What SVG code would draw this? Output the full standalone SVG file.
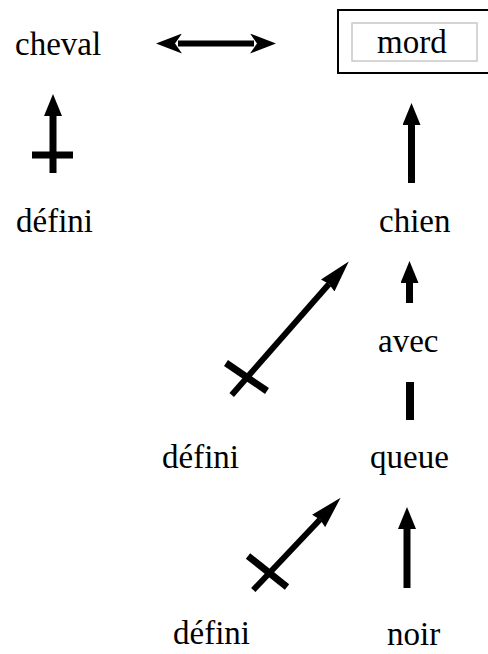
<svg xmlns="http://www.w3.org/2000/svg" width="488" height="654" viewBox="0 0 488 654">
<style>
text{font-family:"Liberation Serif","Times New Roman",serif;font-size:33px;fill:#000}
.c{stroke:#000;fill:none;stroke-linecap:butt}
.s{stroke-width:7}
.t{stroke-width:6}
</style>
<defs>
<marker id="head" markerUnits="userSpaceOnUse" viewBox="0 0 22 18" markerWidth="22" markerHeight="18" refX="1" refY="9" orient="auto"><path d="M0,0 L22,9 L0,18 z" fill="#000"/></marker>
<marker id="headThin" markerUnits="userSpaceOnUse" viewBox="0 0 32 18" markerWidth="32" markerHeight="18" refX="2" refY="9" orient="auto"><path d="M0,0 L32,9 L0,18 L2,9 z" fill="#000"/></marker>
<marker id="headSwept" markerUnits="userSpaceOnUse" viewBox="0 0 26 20" markerWidth="26" markerHeight="20" refX="4" refY="10" orient="auto-start-reverse"><path d="M0,0 L26,10 L0,20 L7,10 z" fill="#000"/></marker>
</defs>
<rect x="0" y="0" width="488" height="654" fill="#fff"/>
<g id="cheval"><text x="15" y="55">cheval</text></g>
<g id="mord"><rect x="338" y="10" width="160" height="63" fill="#fff" stroke="#000" stroke-width="2"/><rect x="352" y="23" width="125" height="38" fill="#fff" stroke="#c8c8c8" stroke-width="1.5"/><text x="377" y="53">mord</text></g>
<g id="defini1"><text x="16" y="232">défini</text></g>
<g id="chien"><text x="379" y="232">chien</text></g>
<g id="avec"><text x="378" y="352">avec</text></g>
<g id="defini2"><text x="162" y="468">défini</text></g>
<g id="queue"><text x="370" y="468">queue</text></g>
<g id="defini3"><text x="173" y="644">défini</text></g>
<g id="noir"><text x="387" y="645">noir</text></g>
<g id="connectors">
<line class="c t" x1="178" y1="43.5" x2="254" y2="43.5" marker-start="url(#headSwept)" marker-end="url(#headSwept)"/>
<line class="c s" x1="53" y1="173" x2="53" y2="115" marker-end="url(#head)"/>
<line class="c s" x1="32" y1="155" x2="73" y2="155"/>
<line class="c s" x1="411.5" y1="183" x2="411.5" y2="124" marker-end="url(#head)"/>
<line class="c s" x1="409.5" y1="303" x2="409.5" y2="282" marker-end="url(#head)"/>
<line class="c" stroke-width="8" x1="410" y1="382" x2="410" y2="420"/>
<line class="c s" x1="407" y1="588" x2="407" y2="528" marker-end="url(#head)"/>
<line class="c t" x1="231.7" y1="395" x2="329" y2="284" marker-end="url(#headThin)"/>
<line class="c s" x1="226" y1="363" x2="267" y2="391"/>
<line class="c t" x1="253.3" y1="590" x2="320" y2="519.5" marker-end="url(#headThin)"/>
<line class="c s" x1="248" y1="556" x2="287" y2="587"/>
</g>
</svg>
